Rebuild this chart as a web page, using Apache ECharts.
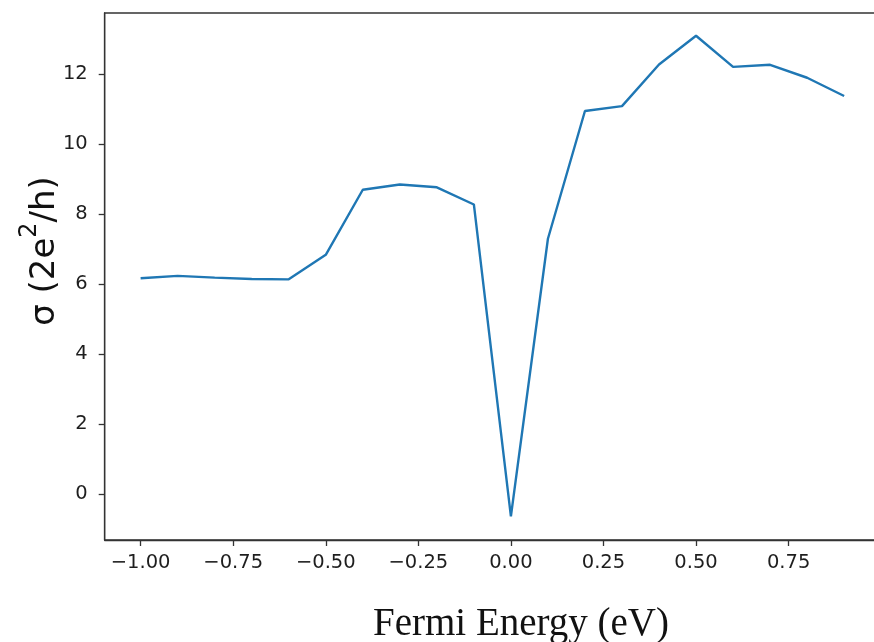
<!DOCTYPE html>
<html>
<head>
<meta charset="utf-8">
<script src="https://cdn.jsdelivr.net/npm/echarts@6/dist/echarts.min.js"></script>
<style>
html,body{margin:0;padding:0;background:#fff;}
#chart{width:874px;height:642px;}
</style>
</head>
<body>
<div id="chart"></div>
<script>
// Data
const fermiEnergy = [-1.0, -0.9, -0.8, -0.7, -0.6, -0.5, -0.4, -0.3, -0.2, -0.1, 0.0, 0.1, 0.2, 0.3, 0.4, 0.5, 0.6, 0.7, 0.8, 0.9];
const sigma = [6.17, 6.24, 6.19, 6.15, 6.14, 6.84, 8.70, 8.85, 8.77, 8.28, -0.63, 7.30, 10.95, 11.09, 12.28, 13.10, 12.21, 12.27, 11.90, 11.38];
const xTicks = [-1.0, -0.75, -0.5, -0.25, 0.0, 0.25, 0.5, 0.75];
const yTicks = [0, 2, 4, 6, 8, 10, 12];
const xTitle = 'Fermi Energy (eV)';

const chart = echarts.init(document.getElementById('chart'), null, {renderer: 'canvas'});
const fmtX = v => (v < 0 ? '\u2212' : '') + Math.abs(v).toFixed(2);
const axisColor = '#333333';
const labelStyle = {color: '#1e1e1e', fontFamily: 'DejaVu Sans', fontSize: 19.5};

chart.setOption({
  animation: false,
  backgroundColor: '#ffffff',
  grid: {
    left: 104.7, top: 13, width: 775, height: 527,
    outerBoundsMode: 'none',
    containLabel: false,
    show: true, borderColor: axisColor, borderWidth: 1.3, backgroundColor: 'transparent'
  },
  xAxis: {
    type: 'value', min: -1.097, max: 0.996,
    splitLine: {show: false},
    axisLine: {show: true, onZero: false, lineStyle: {color: axisColor, width: 1.3}},
    axisTick: {show: true, length: 6, lineStyle: {color: axisColor, width: 1.3}, customValues: xTicks},
    axisLabel: Object.assign({margin: 13, customValues: xTicks, formatter: fmtX}, labelStyle)
  },
  yAxis: {
    type: 'value', min: -1.306, max: 13.75,
    splitLine: {show: false},
    axisLine: {show: true, onZero: false, lineStyle: {color: axisColor, width: 1.3}},
    axisTick: {show: true, length: 6, lineStyle: {color: axisColor, width: 1.3}, customValues: yTicks},
    axisLabel: Object.assign({margin: 17, customValues: yTicks, formatter: v => String(v)}, labelStyle)
  },
  series: [{
    type: 'line',
    data: fermiEnergy.map((e, i) => [e, sigma[i]]),
    showSymbol: false,
    symbol: 'none',
    lineStyle: {color: '#1f77b4', width: 2.4},
    itemStyle: {color: '#1f77b4'}
  }],
  graphic: [
    {
      type: 'text',
      x: 521, y: 644,
      style: {
        text: xTitle,
        font: '39px "Liberation Serif"',
        fill: '#111111',
        align: 'center',
        verticalAlign: 'bottom'
      }
    },
    {
      type: 'text',
      x: 40, y: 251,
      rotation: Math.PI / 2,
      style: {
        text: '{a|\u03c3 (2e}{s|2}{a|/h)}',
        align: 'center',
        verticalAlign: 'middle',
        fill: '#111111',
        rich: {
          a: {fontFamily: 'DejaVu Sans', fontSize: 34, fill: '#111111', lineHeight: 45, verticalAlign: 'bottom'},
          s: {fontFamily: 'DejaVu Sans', fontSize: 24, fill: '#111111', lineHeight: 45, verticalAlign: 'top'}
        }
      }
    }
  ]
});
</script>
</body>
</html>
